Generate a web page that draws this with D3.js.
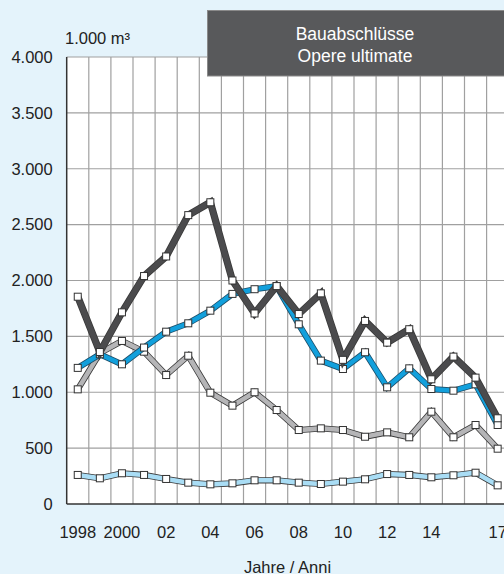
<!doctype html>
<html>
<head>
<meta charset="utf-8">
<title>Bauabschlüsse / Opere ultimate</title>
<script src="https://d3js.org/d3.v7.min.js"></script>
<style>
  html, body { margin: 0; padding: 0; }
  body { background: #e4f3fb; font-family: "Liberation Sans", Arial, sans-serif; }
  svg { display: block; }
  svg text { font-family: "Liberation Sans", Arial, sans-serif; }
</style>
</head>
<body>
<script>
// data (1.000 m³)
var years = d3.range(1998, 2018);
var labelYears = [1998, 2000, 2002, 2004, 2006, 2008, 2010, 2012, 2014, 2017];
var labelText  = ["1998", "2000", "02", "04", "06", "08", "10", "12", "14", "17"];
var yTicks = [0, 500, 1000, 1500, 2000, 2500, 3000, 3500, 4000];

var darkSeries = [1855, 1360, 1715, 2040, 2215, 2585, 2700, 2000, 1705, 1950,
                  1700, 1885, 1290, 1638, 1444, 1564, 1116, 1319, 1131, 767];
var blueSeries = [1218, 1340, 1250, 1400, 1542, 1617, 1730, 1880, 1922, 1950,
                  1608, 1283, 1208, 1358, 1044, 1214, 1029, 1014, 1071, 707];
var greySeries = [1026, 1350, 1459, 1363, 1154, 1327, 996, 880, 1000, 841,
                  662, 677, 662, 602, 641, 597, 826, 597, 707, 495];
var lightSeries = [260, 230, 275, 260, 224, 191, 176, 185, 212, 212,
                   191, 179, 200, 221, 268, 260, 239, 257, 280, 167];

var W = 504, H = 574;
var pLeft = 66.7, pTop = 57, pBottom = 504, pRight = 508.7;

var svg = d3.select("body").append("svg")
    .attr("width", W)
    .attr("height", H);

var x = d3.scaleBand().domain(years).range([pLeft, pRight]);
var y = d3.scaleLinear().domain([0, 4000]).range([pBottom, pTop]);
var cx = function(yr) { return x(yr) + x.bandwidth() / 2; };

var fmt = d3.formatLocale({decimal: ",", thousands: ".", grouping: [3], currency: ["", ""]}).format(",");

// plot background
svg.append("rect")
    .attr("x", pLeft).attr("y", pTop)
    .attr("width", pRight - pLeft).attr("height", pBottom - pTop)
    .attr("fill", "#fff");

// grid
svg.append("g").selectAll("line")
    .data(years)
    .enter().append("line")
    .attr("x1", function(d) { return x(d) + x.bandwidth(); })
    .attr("x2", function(d) { return x(d) + x.bandwidth(); })
    .attr("y1", pTop).attr("y2", pBottom)
    .attr("stroke", "#a0a0a0").attr("stroke-width", 1.2);

svg.append("g").selectAll("line")
    .data(yTicks.slice(1))
    .enter().append("line")
    .attr("x1", pLeft).attr("x2", pRight)
    .attr("y1", function(d) { return y(d); })
    .attr("y2", function(d) { return y(d); })
    .attr("stroke", "#a0a0a0").attr("stroke-width", 1.2);

// axes lines
svg.append("line").attr("x1", pLeft).attr("x2", pLeft).attr("y1", pTop).attr("y2", pBottom)
    .attr("stroke", "#333").attr("stroke-width", 1.5);
svg.append("line").attr("x1", pLeft).attr("x2", pRight).attr("y1", pBottom).attr("y2", pBottom)
    .attr("stroke", "#333").attr("stroke-width", 1.5);

// y axis labels
var yAxis = svg.append("g")
    .attr("transform", "translate(" + (pLeft - 14) + ",0)")
    .call(d3.axisLeft(y).tickValues(yTicks).tickSize(0).tickPadding(0).tickFormat(fmt));
yAxis.select(".domain").remove();
yAxis.selectAll("text").attr("fill", "#222").style("font-size", "16.5px");

// x axis labels
var xAxis = svg.append("g")
    .attr("transform", "translate(0," + (pBottom + 22) + ")")
    .call(d3.axisBottom(x).tickValues(labelYears).tickSize(0).tickPadding(0)
      .tickFormat(function(d) { return labelText[labelYears.indexOf(d)]; }));
xAxis.select(".domain").remove();
xAxis.selectAll("text").attr("fill", "#222").style("font-size", "16.5px");

svg.append("text")
    .attr("x", 287.5).attr("y", 573)
    .attr("text-anchor", "middle")
    .style("font-size", "16.5px").attr("fill", "#222")
    .text("Jahre / Anni");

svg.append("text")
    .attr("x", 65).attr("y", 43.5)
    .style("font-size", "16.5px").attr("fill", "#222")
    .text("1.000 m³");

// series
var line = d3.line()
    .x(function(d, i) { return cx(years[i]); })
    .y(function(d) { return y(d); });

function drawSeries(vals, color, outline, w) {
  var g = svg.append("g");
  g.append("path").datum(vals).attr("d", line)
    .attr("fill", "none").attr("stroke", outline).attr("stroke-width", w + 1.6)
    .attr("stroke-linejoin", "miter");
  g.append("path").datum(vals).attr("d", line)
    .attr("fill", "none").attr("stroke", color).attr("stroke-width", w)
    .attr("stroke-linejoin", "miter");
  g.selectAll("rect").data(vals).enter().append("rect")
    .attr("x", function(d, i) { return cx(years[i]) - 3.5; })
    .attr("y", function(d) { return y(d) - 3.5; })
    .attr("width", 7).attr("height", 7)
    .attr("fill", "#fff").attr("stroke", "#333").attr("stroke-width", 1);
}

drawSeries(lightSeries, "#a9ddf5", "#3a3a3a", 4.6);
drawSeries(greySeries, "#b5b5b7", "#3a3a3a", 4.6);
drawSeries(blueSeries, "#12a0dc", "#1d4f6a", 4.6);
drawSeries(darkSeries, "#4b4b4d", "#3a3a3a", 5.6);

// title box
svg.append("rect")
    .attr("x", 207.5).attr("y", 10.5)
    .attr("width", 310).attr("height", 65.5)
    .attr("fill", "#58595b").attr("stroke", "#8a8a8a").attr("stroke-width", 1);
svg.append("text")
    .attr("x", 355).attr("y", 40)
    .attr("text-anchor", "middle").attr("fill", "#fff")
    .style("font-size", "17.5px")
    .text("Bauabschlüsse");
svg.append("text")
    .attr("x", 355).attr("y", 62)
    .attr("text-anchor", "middle").attr("fill", "#fff")
    .style("font-size", "17.5px")
    .text("Opere ultimate");
</script>
</body>
</html>
